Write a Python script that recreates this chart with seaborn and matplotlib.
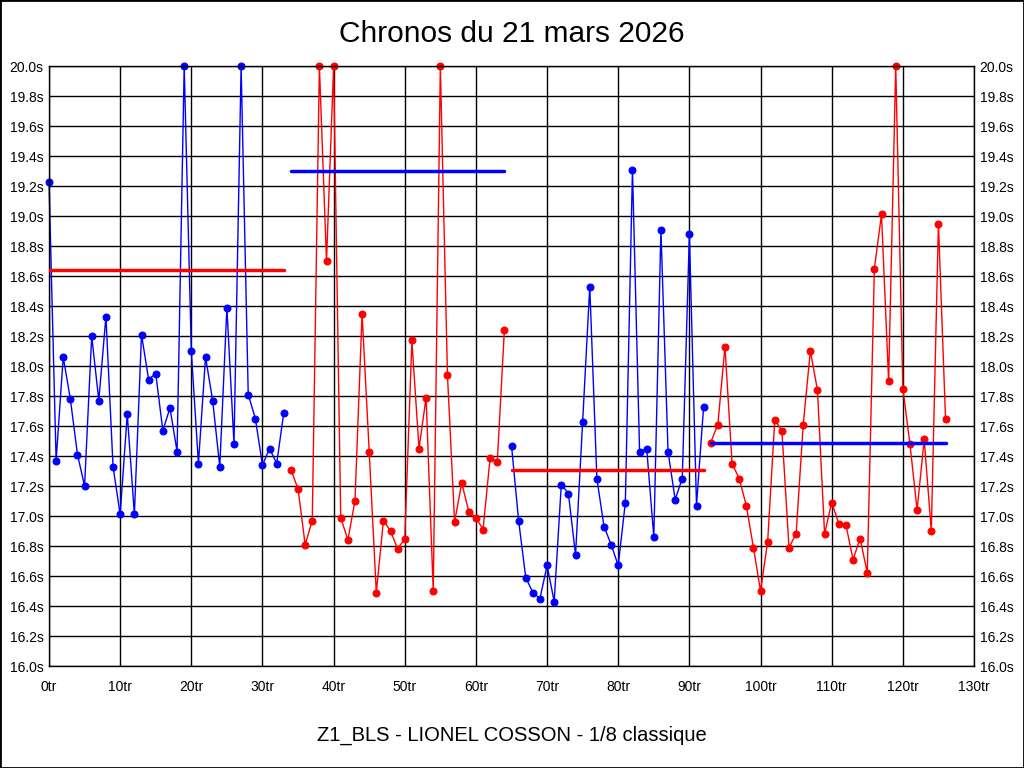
import matplotlib
matplotlib.use('Agg')
import matplotlib.pyplot as plt
import seaborn as sns

# lap times, one list per stint (seconds)
stint1 = [19.23, 17.37, 18.06, 17.78, 17.41, 17.20, 18.20, 17.77, 18.33, 17.33,
          17.01, 17.68, 17.01, 18.21, 17.91, 17.95, 17.57, 17.72, 17.43, 20.00,
          18.10, 17.35, 18.06, 17.77, 17.33, 18.39, 17.48, 20.00, 17.81, 17.65,
          17.34, 17.45, 17.35, 17.69]
stint2 = [17.31, 17.18, 16.81, 16.97, 20.00, 18.70, 20.00, 16.99, 16.84, 17.10,
          18.35, 17.43, 16.49, 16.97, 16.90, 16.78, 16.85, 18.17, 17.45, 17.79,
          16.50, 20.00, 17.94, 16.96, 17.22, 17.03, 16.99, 16.91, 17.39, 17.36,
          18.24]
stint3 = [17.47, 16.97, 16.59, 16.49, 16.45, 16.67, 16.43, 17.21, 17.15, 16.74,
          17.63, 18.53, 17.25, 16.93, 16.81, 16.67, 17.09, 19.31, 17.43, 17.45,
          16.86, 18.91, 17.43, 17.11, 17.25, 18.88, 17.07, 17.73]
stint4 = [17.49, 17.61, 18.13, 17.35, 17.25, 17.07, 16.79, 16.50, 16.83, 17.64,
          17.57, 16.79, 16.88, 17.61, 18.10, 17.84, 16.88, 17.09, 16.95, 16.94,
          16.71, 16.85, 16.62, 18.65, 19.01, 17.90, 20.00, 17.85, 17.48, 17.04,
          17.51, 16.90, 18.95, 17.65]
stints = [stint1, stint2, stint3, stint4]
stint_colors = ['blue', 'red', 'blue', 'red']

# average lines (drawn in the opposite colour, as on the reference)
avg_values = [18.64, 19.30, 17.31, 17.49]
avg_colors = ['red', 'blue', 'red', 'blue']

y_ticks = [16.0 + 0.2 * i for i in range(21)]
x_ticks = list(range(0, 131, 10))

sns.set_style('white')
plt.rcParams['font.family'] = ['Liberation Sans', 'DejaVu Sans']
plt.rcParams['text.color'] = 'black'

fig = plt.figure(figsize=(10.24, 7.68), dpi=100)
ax = fig.add_axes([49 / 1024, 1 - 666 / 768, 925 / 1024, 600 / 768])

start = 0
for times, col, avg, acol in zip(stints, stint_colors, avg_values, avg_colors):
    laps = list(range(start, start + len(times)))
    sns.lineplot(x=laps, y=times, color=col, marker='o', markersize=5,
                 markeredgecolor=col, linewidth=1, ax=ax, clip_on=False)
    ax.plot([laps[0], laps[-1]], [avg, avg], color=acol, linewidth=2.5, zorder=3)
    start += len(times)

ax.set_xlim(0, 130)
ax.set_ylim(16.0, 20.0)
ax.set_xticks(x_ticks)
ax.set_xticklabels([f'{t}tr' for t in x_ticks])
ax.set_yticks(y_ticks)
ax.set_yticklabels([f'{t:.1f}s' for t in y_ticks])
ax.tick_params(axis='both', length=0, labelsize=10, colors='black')
ax.tick_params(axis='x', pad=10)
ax.tick_params(axis='y', pad=4, right=True, labelright=True)
ax.grid(True, color='black', linewidth=1)
ax.set_axisbelow(True)
for sp in ax.spines.values():
    sp.set_color('black')
    sp.set_linewidth(1)
ax.set_xlabel('')
ax.set_ylabel('')

fig.text(0.5, 1 - 34 / 768, 'Chronos du 21 mars 2026', ha='center', va='center',
         fontsize=21.5, color='black')
fig.text(0.5, 1 - 735 / 768, 'Z1_BLS - LIONEL COSSON - 1/8 classique', ha='center',
         va='center', fontsize=14.5, color='black')

# black frame around the whole picture
fig.patches.append(plt.Rectangle((0, 0), 1, 1, transform=fig.transFigure, fill=False,
                                 edgecolor='black', linewidth=2))

fig.savefig('out.png', dpi=100)
